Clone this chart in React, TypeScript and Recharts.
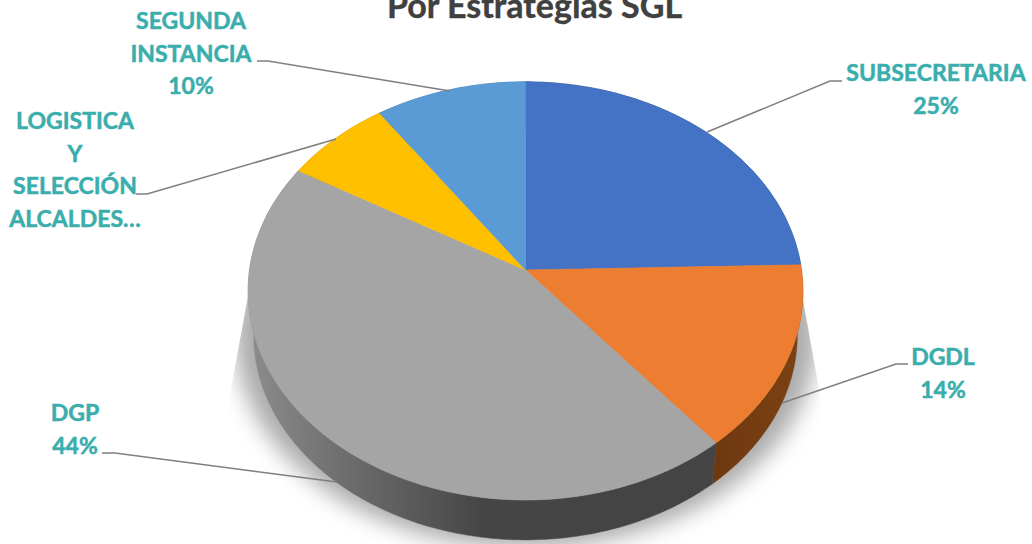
import { PieChart, Pie, Cell } from "recharts";

const names = ["SUBSECRETARIA", "DGDL", "DGP", "LOGISTICA Y SELECCIÓN ALCALDES", "SEGUNDA INSTANCIA"];
const values = [24.6, 14.4, 44.4, 6.9, 9.7];
const topColors = ["#4472C4", "#ED7D31", "#A5A5A5", "#FFC000", "#5B9BD5"];
const wallColors = ["#2a4578", "url(#wallOrange)", "url(#wallGray)", "#997300", "#37648c"];

const data = names.map((name, i) => ({ name, value: values[i] }));

const TEAL = "#3AADAD";
const RATIO = 207 / 276; // squash of the tilted disc
const PERSPECTIVE = 0.1;
const FONT = "Lato, 'Open Sans', sans-serif";

// text lines and leader for every label, same order as names
const labelLayout = [
  { x: 936, y: 81, lines: ["SUBSECRETARIA", "%"], leader: "842,81 830,81 707,132" },
  { x: 943, y: 365, lines: ["DGDL", "%"], leader: "908,364 896,364 782,403" },
  { x: 75, y: 421, lines: ["DGP", "%"], leader: "102,453 115,453 337,482" },
  { x: 75, y: 129, lines: ["LOGISTICA", "Y", "SELECCIÓN", "ALCALDES…"], leader: "136,194 147,194 336,139" },
  { x: 191, y: 29, lines: ["SEGUNDA", "INSTANCIA", "%"], leader: "257,61 268,61 450,91" },
];

// tilted disc point for a pie angle, nearer edge comes out bigger
function project(cx: number, cy: number, r: number, deg: number, scale = 1, drop = 0) {
  const a = (deg * Math.PI) / 180;
  const u = Math.cos(a);
  const v = -Math.sin(a);
  const w = 1 - PERSPECTIVE * v;
  return [cx + (r * scale * u) / w, cy + drop + (r * RATIO * scale * v) / w];
}

function arc(cx: number, cy: number, r: number, from: number, to: number, scale = 1, drop = 0) {
  const steps = Math.max(2, Math.ceil(Math.abs(to - from)));
  const pts: string[] = [];
  for (let i = 0; i <= steps; i++) {
    const p = project(cx, cy, r, from + ((to - from) * i) / steps, scale, drop);
    pts.push(`${p[0].toFixed(1)},${p[1].toFixed(1)}`);
  }
  return pts;
}

function TopSlice(props: any) {
  const { cx, cy, outerRadius, startAngle, endAngle, fill } = props;
  const pts = arc(cx, cy, outerRadius, startAngle, endAngle);
  return <path d={`M${cx},${cy}L${pts.join("L")}Z`} fill={fill} stroke={fill} strokeWidth={0.6} />;
}

function WallSlice(props: any) {
  const { cx, cy, outerRadius, startAngle, endAngle, fill } = props;
  const top = arc(cx, cy, outerRadius, startAngle, endAngle);
  const bottom = arc(cx, cy, outerRadius, endAngle, startAngle, 0.98, 44.5);
  return <path d={`M${top.join("L")}L${bottom.join("L")}Z`} fill={fill} stroke={fill} strokeWidth={0.4} />;
}

function renderLabel(props: any) {
  const { index, percent } = props;
  const item = labelLayout[index];
  const pct = `${Math.round(percent * 100)}%`;
  return (
    <g key={index}>
      <polyline points={item.leader} fill="none" stroke="#7F7F7F" strokeWidth={1.5} />
      <text
        x={item.x}
        y={item.y}
        textAnchor="middle"
        fill={TEAL}
        stroke={TEAL}
        strokeWidth={0.5}
        fontFamily={FONT}
        fontWeight={700}
        fontSize={23}
      >
        {item.lines.map((line, i) => (
          <tspan key={i} x={item.x} y={item.y + i * 32.6}>
            {line === "%" ? pct : line}
          </tspan>
        ))}
      </text>
    </g>
  );
}

export default function App() {
  return (
    <div style={{ position: "absolute", left: 0, top: 0, width: 1032, height: 544, background: "#fff", overflow: "hidden" }}>
      <PieChart width={1032} height={544} margin={{ top: 0, right: 0, bottom: 0, left: 0 }}>
        <defs>
          <linearGradient id="wallGray" gradientUnits="userSpaceOnUse" x1="250" y1="0" x2="720" y2="0">
            <stop offset="0" stopColor="#8C8C8C" />
            <stop offset="0.2" stopColor="#6E6E6E" />
            <stop offset="0.5" stopColor="#454545" />
            <stop offset="1" stopColor="#444444" />
          </linearGradient>
          <linearGradient id="wallOrange" gradientUnits="userSpaceOnUse" x1="710" y1="0" x2="805" y2="0">
            <stop offset="0" stopColor="#6E3810" />
            <stop offset="1" stopColor="#7C4213" />
          </linearGradient>
          <filter id="soft" x="-20%" y="-20%" width="140%" height="140%">
            <feGaussianBlur stdDeviation="11" />
          </filter>
          <clipPath id="shadowClip">
            <polygon points="250,285 229,400 229,544 823,544 821,400 803,300" />
          </clipPath>
        </defs>
        <g clipPath="url(#shadowClip)">
          <ellipse cx={526} cy={336} rx={291} ry={212} fill="#8f8f8f" filter="url(#soft)" opacity={0.75} />
        </g>
        <Pie
          data={data}
          dataKey="value"
          cx={525.5}
          cy={270}
          outerRadius={276}
          startAngle={90}
          endAngle={-270}
          isAnimationActive={false}
          shape={WallSlice}
          label={false}
          labelLine={false}
        >
          {wallColors.map((c, i) => (
            <Cell key={i} fill={c} />
          ))}
        </Pie>
        <Pie
          data={data}
          dataKey="value"
          cx={525.5}
          cy={270}
          outerRadius={276}
          startAngle={90}
          endAngle={-270}
          isAnimationActive={false}
          shape={TopSlice}
          label={renderLabel}
          labelLine={false}
        >
          {topColors.map((c, i) => (
            <Cell key={i} fill={c} />
          ))}
        </Pie>
        <text x={534.5} y={18} textAnchor="middle" fill="#404040" stroke="#404040" strokeWidth={0.4} fontFamily={FONT} fontWeight={700} fontSize={34}>
          Por Estrategias SGL
        </text>
      </PieChart>
    </div>
  );
}
